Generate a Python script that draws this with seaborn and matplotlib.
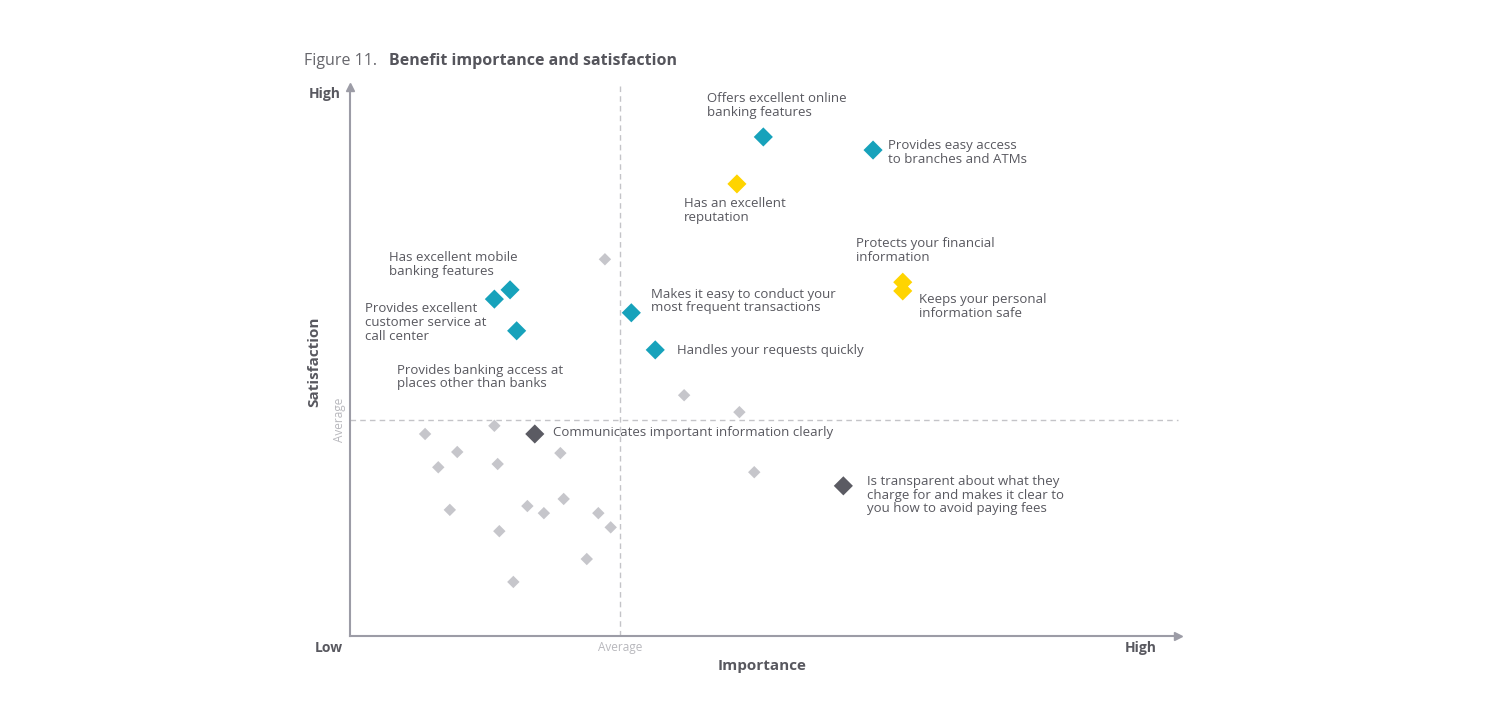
import pandas as pd
import matplotlib.pyplot as plt
import seaborn as sns

sns.set_style("white")
plt.rcParams['font.family'] = ['Open Sans', 'DejaVu Sans']

# Benefits (importance / satisfaction on a 0-100 relative scale)
benefits = [
    "Offers excellent online\nbanking features",
    "Provides easy access\nto branches and ATMs",
    "Has excellent mobile\nbanking features",
    "Provides excellent\ncustomer service at\ncall center",
    "Provides banking access at\nplaces other than banks",
    "Makes it easy to conduct your\nmost frequent transactions",
    "Handles your requests quickly",
    "Has an excellent\nreputation",
    "Protects your financial\ninformation",
    "Keeps your personal\ninformation safe",
    "Communicates important information clearly",
    "Is transparent about what they\ncharge for and makes it clear to\nyou how to avoid paying fees",
]
importance = [50.1, 63.4, 19.4, 17.5, 20.2, 34.1, 37.0, 46.9, 67.0, 67.0, 22.4, 59.8]
satisfaction = [91.4, 89.0, 63.4, 61.7, 55.9, 59.2, 52.4, 82.8, 64.8, 63.2, 37.0, 27.5]
group = ["teal"] * 7 + ["yellow"] * 3 + ["dark"] * 2

# other (unlabelled) benefits
other_importance = [30.9, 40.5, 47.2, 49.0, 9.1, 17.5, 13.0, 10.7, 17.9, 25.5,
                    12.1, 21.5, 23.5, 25.9, 30.1, 31.6, 18.1, 28.7, 19.8]
other_satisfaction = [69.0, 44.1, 41.0, 30.0, 37.0, 38.5, 33.7, 30.9, 31.5, 33.5,
                      23.1, 23.8, 22.5, 25.1, 22.5, 19.9, 19.2, 14.1, 9.9]

avg_importance = 32.7
avg_satisfaction = 39.6

df = pd.DataFrame({"benefit": benefits, "importance": importance,
                   "satisfaction": satisfaction, "group": group})
others = pd.DataFrame({"importance": other_importance, "satisfaction": other_satisfaction})

palette = {"teal": "#17a2bb", "yellow": "#ffd400", "dark": "#5b5b63"}
txt = "#58585f"
axis_col = "#9c9ca6"

fig = plt.figure(figsize=(14.9, 7.2), dpi=100)
ax = fig.add_axes([350 / 1490, 1 - 636 / 720, 825 / 1490, 546 / 720])
ax.set_xlim(0, 100)
ax.set_ylim(0, 100)

ax.axvline(avg_importance, color="#c4c4c8", lw=1, ls=(0, (4, 3)), ymax=1.01, clip_on=False)
ax.axhline(avg_satisfaction, color="#c4c4c8", lw=1, ls=(0, (4, 3)), xmax=1.004, clip_on=False)

sns.scatterplot(data=others, x="importance", y="satisfaction", marker="D", s=40,
                color="#c6c6cb", edgecolor="none", ax=ax, zorder=3)
sns.scatterplot(data=df, x="importance", y="satisfaction", hue="group", palette=palette,
                marker="D", s=95, edgecolor="none", legend=False, ax=ax, zorder=4)

# label offsets in pixels (text top-left relative to point)
offsets = [(-56, 45), (15, 11), (-121, 39), (-129, -3), (-120, -33), (20, 25), (22, 6),
           (-53, -13), (-47, 45), (16, -2), (18, 8), (24, 11)]
for i, row in df.iterrows():
    ax.annotate(row["benefit"], (row["importance"], row["satisfaction"]),
                xytext=offsets[i], textcoords="offset pixels", ha="left", va="top",
                fontsize=9.5, color=txt, linespacing=1.07, zorder=5)

for side in ["top", "right"]:
    ax.spines[side].set_visible(False)
for side in ["left", "bottom"]:
    ax.spines[side].set_color(axis_col)
    ax.spines[side].set_linewidth(1.5)
ax.plot(1.004, 0, ">", color=axis_col, ms=6, transform=ax.transAxes, clip_on=False)
ax.plot(0, 1.006, "^", color=axis_col, ms=6, transform=ax.transAxes, clip_on=False)
ax.set_xticks([])
ax.set_yticks([])
ax.set_xlabel("")
ax.set_ylabel("")

# axis annotations
fig.text(341 / 1490, 1 - 94 / 720, "High", fontsize=10, fontweight="bold", color=txt,
         ha="right", va="center")
fig.text(315 / 1490, 1 - 648 / 720, "Low", fontsize=10, fontweight="bold", color=txt, va="center")
fig.text(1125 / 1490, 1 - 648 / 720, "High", fontsize=10, fontweight="bold", color=txt, va="center")
fig.text(620 / 1490, 1 - 648 / 720, "Average", fontsize=8.5, color="#b8b8bd", ha="center", va="center")
fig.text(339 / 1490, 1 - 420 / 720, "Average", fontsize=8.5, color="#b8b8bd", rotation=90,
         ha="center", va="center")
fig.text(762 / 1490, 1 - 666 / 720, "Importance", fontsize=11, fontweight="bold", color=txt,
         ha="center", va="center")
fig.text(314 / 1490, 1 - 362 / 720, "Satisfaction", fontsize=11, fontweight="bold", color=txt,
         rotation=90, ha="center", va="center")

# title
fig.text(304 / 1490, 1 - 61 / 720, "Figure 11.", fontsize=11.5, color="#66666c", va="center")
fig.text(389 / 1490, 1 - 61 / 720, "Benefit importance and satisfaction", fontsize=11.5,
         fontweight="bold", color="#55555c", va="center")

plt.savefig("out.png", dpi=100)
